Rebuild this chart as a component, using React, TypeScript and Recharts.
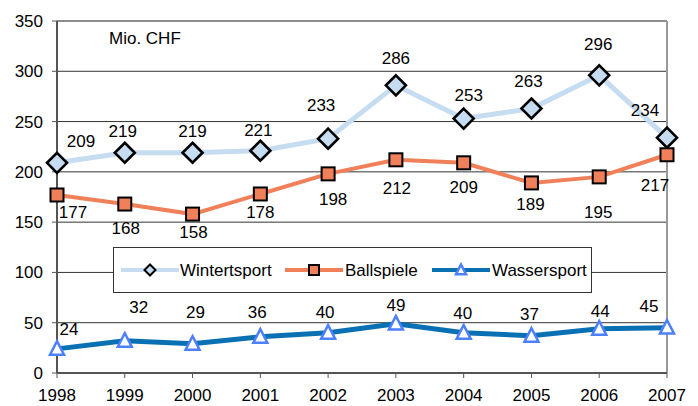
import React from "react";
import {
  LineChart,
  Line,
  XAxis,
  YAxis,
  CartesianGrid,
  Legend,
  LabelList,
  ReferenceLine,
} from "recharts";

const years = ["1998", "1999", "2000", "2001", "2002", "2003", "2004", "2005", "2006", "2007"];
const wintersport = [209, 219, 219, 221, 233, 286, 253, 263, 296, 234];
const ballspiele = [177, 168, 158, 178, 198, 212, 209, 189, 195, 217];
const wassersport = [24, 32, 29, 36, 40, 49, 40, 37, 44, 45];
const yTicks = [0, 50, 100, 150, 200, 250, 300, 350];

// hand-placed label offsets (dx, dy) relative to each point, as in the original
const winterLabelPos = [[24, -21], [-2, -21], [0, -21], [-2, -20], [-7, -33], [0, -27], [5, -23], [-3, -27], [-1, -31], [-22, -27]];
const ballLabelPos = [[16, 18], [1, 24], [1, 18], [0, 19], [5, 26], [1, 29], [0, 25], [-1, 22], [-1, 36], [-12, 31]];
const wasserLabelPos = [[12, -19], [14, -33], [3, -31], [-3, -24], [-3, -20], [0, -18], [-1, -19], [-2, -21], [1, -17], [-18, -21]];

const data = years.map((year, i) => ({
  year,
  winter: wintersport[i],
  ball: ballspiele[i],
  wasser: wassersport[i],
}));

const FONT = "'Liberation Sans', Arial, sans-serif";
const WINTER = "#c6dcf0";
const BALL = "#f0805a";
const WASSER = "#0a70b4";
const TRI = "#4d80ff";

const Diamond = ({ cx, cy, r }: { cx: number; cy: number; r: number }) => (
  <polygon
    points={`${cx},${cy - r} ${cx + r},${cy} ${cx},${cy + r} ${cx - r},${cy}`}
    fill={WINTER}
    stroke="#000"
    strokeWidth={r > 6 ? 2.6 : 2}
  />
);

const Square = ({ cx, cy, s }: { cx: number; cy: number; s: number }) => (
  <rect x={cx - s / 2} y={cy - s / 2} width={s} height={s} fill={BALL} stroke="#000" strokeWidth={2} />
);

const Triangle = ({ cx, cy, s }: { cx: number; cy: number; s: number }) => (
  <polygon
    points={`${cx},${cy - s * 0.55} ${cx + s / 2},${cy + s * 0.42} ${cx - s / 2},${cy + s * 0.42}`}
    fill="#fff"
    stroke={TRI}
    strokeWidth={2.5}
    strokeLinejoin="miter"
  />
);

const makeLabel = (pos: number[][]) => (props: any) => {
  const { x, y, index, value } = props;
  const [dx, dy] = pos[index] ?? [0, -20];
  return (
    <text
      x={x + dx}
      y={y + dy}
      textAnchor="middle"
      dominantBaseline="central"
      fontFamily={FONT}
      fontSize={17}
      fill="#000"
    >
      {value}
    </text>
  );
};

const LegendBox = () => (
  <div
    style={{
      width: 479,
      height: 46,
      border: "1px solid #333",
      background: "#fff",
      boxSizing: "border-box",
    }}
  >
    <svg width={479} height={46} style={{ display: "block", marginTop: -1, marginLeft: -1 }}>
      <line x1={8} x2={66} y1={23} y2={23} stroke={WINTER} strokeWidth={4} />
      <Diamond cx={37} cy={23} r={5.5} />
      <text x={67} y={23} dominantBaseline="central" fontFamily={FONT} fontSize={17}>
        Wintertsport
      </text>
      <line x1={172} x2={230} y1={23} y2={23} stroke={BALL} strokeWidth={4} />
      <Square cx={201} cy={23} s={10} />
      <text x={232} y={23} dominantBaseline="central" fontFamily={FONT} fontSize={17}>
        Ballspiele
      </text>
      <line x1={319} x2={377} y1={23} y2={23} stroke={WASSER} strokeWidth={4} />
      <Triangle cx={348} cy={23} s={10} />
      <text x={379} y={23} dominantBaseline="central" fontFamily={FONT} fontSize={17}>
        Wassersport
      </text>
    </svg>
  </div>
);

export default function App() {
  return (
    <div style={{ position: "absolute", left: 0, top: 0, width: 698, height: 406, background: "#fff" }}>
      <LineChart
        width={698}
        height={406}
        data={data}
        margin={{ top: 21, right: 31, left: 0, bottom: 0 }}
      >
        <CartesianGrid vertical={false} stroke="#333" strokeWidth={1} />
        <XAxis
          dataKey="year"
          height={33}
          tickSize={5}
          tickMargin={11}
          interval={0}
          stroke="#555"
          axisLine={{ stroke: "#555", strokeWidth: 2 }}
          tick={{ fontSize: 17, fill: "#000", fontFamily: FONT }}
        />
        <YAxis
          domain={[0, 350]}
          ticks={yTicks}
          width={57}
          tickSize={5}
          tickMargin={9}
          stroke="#555"
          axisLine={{ stroke: "#555", strokeWidth: 2 }}
          tick={{ fontSize: 17, fill: "#000", fontFamily: FONT }}
        />
        <ReferenceLine y={350} stroke="#888" strokeWidth={1.5} />
        <ReferenceLine x="2007" stroke="#999" strokeWidth={2} />
        <Legend
          layout="horizontal"
          verticalAlign="middle"
          align="center"
          content={() => <LegendBox />}
          wrapperStyle={{ position: "absolute", left: 113, top: 247, width: 480, height: 47 }}
        />
        <Line
          dataKey="winter"
          stroke={WINTER}
          strokeWidth={5}
          isAnimationActive={false}
          dot={(p: any) => <Diamond key={`w${p.index}`} cx={p.cx} cy={p.cy} r={10} />}
          activeDot={false}
        >
          <LabelList dataKey="winter" content={makeLabel(winterLabelPos)} />
        </Line>
        <Line
          dataKey="ball"
          stroke={BALL}
          strokeWidth={4}
          isAnimationActive={false}
          dot={(p: any) => <Square key={`b${p.index}`} cx={p.cx} cy={p.cy} s={13} />}
          activeDot={false}
        >
          <LabelList dataKey="ball" content={makeLabel(ballLabelPos)} />
        </Line>
        <Line
          dataKey="wasser"
          stroke={WASSER}
          strokeWidth={5}
          isAnimationActive={false}
          dot={(p: any) => <Triangle key={`t${p.index}`} cx={p.cx} cy={p.cy} s={14} />}
          activeDot={false}
        >
          <LabelList dataKey="wasser" content={makeLabel(wasserLabelPos)} />
        </Line>
      </LineChart>
      <div
        style={{
          position: "absolute",
          left: 109,
          top: 29,
          fontFamily: FONT,
          fontSize: 17,
          lineHeight: "20px",
          color: "#000",
        }}
      >
        Mio. CHF
      </div>
    </div>
  );
}
